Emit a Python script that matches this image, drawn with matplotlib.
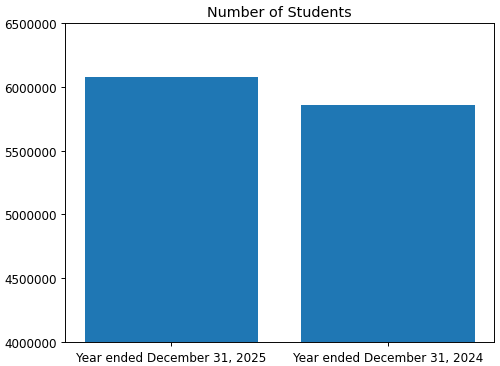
import matplotlib
matplotlib.use("Agg")
import matplotlib.pyplot as plt

# Data
categories = ["Year ended December 31, 2025", "Year ended December 31, 2024"]
students = [6078000, 5853000]

DPI = 86
fig, ax = plt.subplots(figsize=(500 / DPI, 367 / DPI), dpi=DPI)
fig.subplots_adjust(left=0.13, right=0.988, top=0.935, bottom=0.065)

ax.bar(categories, students, color="#1f77b4")

ax.set_ylim(4000000, 6500000)
ax.set_yticks(range(4000000, 6500001, 500000))
ax.ticklabel_format(axis="y", style="plain", useOffset=False)
ax.set_title("Number of Students")

fig.savefig("out.png", dpi=DPI)
